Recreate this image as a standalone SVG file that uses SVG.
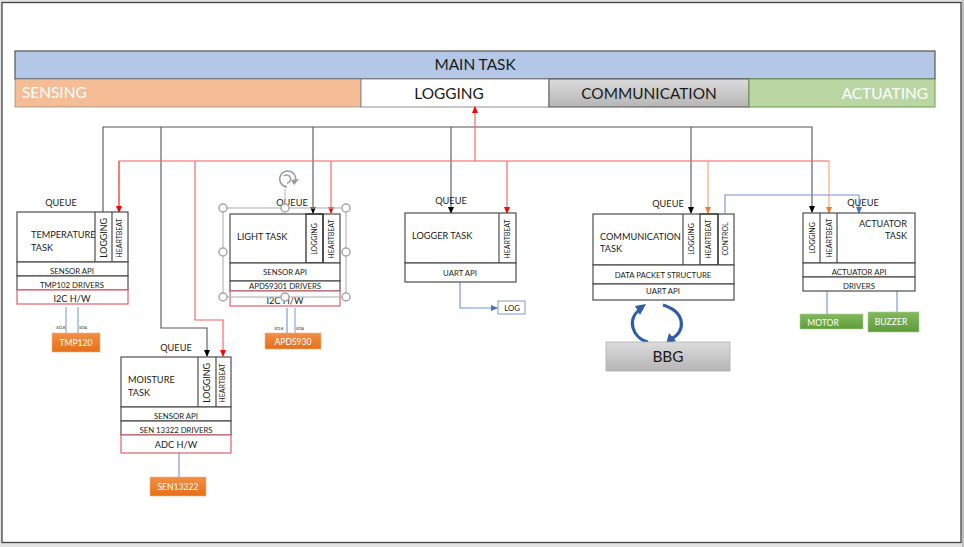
<svg xmlns="http://www.w3.org/2000/svg" width="964" height="547" viewBox="0 0 964 547">
<style>
text{font-family:Lato,"Open Sans","Liberation Sans",sans-serif;fill:#1a1a1a;font-size:7.8px}
.c{text-anchor:middle}
.box{fill:#fff;stroke:#4d4d4d;stroke-width:1.2}
.red{fill:#fff;stroke:#e0616b;stroke-width:1.2}
.l{fill:none;stroke:#4d4d4d;stroke-width:1.2}
.k,.r,.o,.b,.s{fill:none}
.k{stroke:#555;stroke-width:1.1}
.r{stroke:#f45c5c;stroke-width:1.1}
.o{stroke:#f4a36c;stroke-width:1.1}
.b{stroke:#6f93d6;stroke-width:1.1}
.s{stroke:#a9bfe4;stroke-width:1.6}
.h{fill:#fff;stroke:#a6a6a6;stroke-width:1.5}
.q{font-size:9.2px}
.t{font-size:9.2px}
.v{font-size:7px}
.vl{font-size:8.8px}
.h1{font-size:15.4px}
.w{fill:#fff;font-size:8.6px}
.m{font-size:4px}
</style>
<defs>
<marker id="ak" markerWidth="7" markerHeight="6" refX="6" refY="3" orient="auto" markerUnits="userSpaceOnUse"><path d="M0 0L7 3L0 6z" fill="#000"/></marker>
<marker id="ar" markerWidth="7" markerHeight="6" refX="6" refY="3" orient="auto" markerUnits="userSpaceOnUse"><path d="M0 0L7 3L0 6z" fill="#f00"/></marker>
<marker id="ao" markerWidth="7" markerHeight="6" refX="6" refY="3" orient="auto" markerUnits="userSpaceOnUse"><path d="M0 0L7 3L0 6z" fill="#ed7d31"/></marker>
<marker id="ab" markerWidth="7" markerHeight="6" refX="6" refY="3" orient="auto" markerUnits="userSpaceOnUse"><path d="M0 0L7 3L0 6z" fill="#4472c4"/></marker>
<linearGradient id="gg" x1="0" y1="0" x2="0" y2="1"><stop offset="0" stop-color="#dcdcdc"/><stop offset="1" stop-color="#b5b5b5"/></linearGradient>
<linearGradient id="go" x1="0" y1="0" x2="0" y2="1"><stop offset="0" stop-color="#f28f45"/><stop offset="1" stop-color="#e56f17"/></linearGradient>
<linearGradient id="gv" x1="0" y1="0" x2="0" y2="1"><stop offset="0" stop-color="#83b85f"/><stop offset="1" stop-color="#5f9c39"/></linearGradient>
</defs>
<rect width="964" height="547" fill="#e3e3e3"/>
<rect x="962" y="0" width="2" height="547" fill="#bdbdbd"/>
<rect x="2" y="2.5" width="959" height="540" fill="#fff" stroke="#444" stroke-width="1.3"/>

<g id="main-task">
<rect x="15" y="51" width="920" height="28" fill="#b4c7e7" stroke="#555" stroke-width="1.2"/>
<text x="475" y="70" class="c h1">MAIN TASK</text>
</g>
<g id="sensing">
<rect x="15" y="79" width="346" height="28" fill="#f4bd96" stroke="#777" stroke-width="0.6"/>
<text x="22" y="98" class="h1" style="fill:#fff">SENSING</text>
</g>
<g id="logging">
<rect x="361" y="79" width="188" height="28" fill="#fff" stroke="#777" stroke-width="0.8"/>
<text x="449" y="99" class="c h1">LOGGING</text>
</g>
<g id="communication">
<rect x="549" y="79" width="200" height="28" fill="url(#gg)" stroke="#555" stroke-width="1"/>
<text x="649" y="99" class="c h1">COMMUNICATION</text>
</g>
<g id="actuating">
<rect x="749" y="79" width="186" height="28" fill="#b9d6a3" stroke="#6d9a50" stroke-width="1"/>
<text x="928" y="99" text-anchor="end" class="h1" style="fill:#fff">ACTUATING</text>
</g>

<g id="connectors">
<path class="k" d="M103 212V127H812V212" marker-end="url(#ak)"/>
<path class="k" d="M161 127V328H207V356" marker-end="url(#ak)"/>
<path class="k" d="M313 127V213" marker-end="url(#ak)"/>
<path class="k" d="M451 127V213" marker-end="url(#ak)"/>
<path class="k" d="M691 127V213" marker-end="url(#ak)"/>
<path class="r" d="M119 212V161H829"/>
<path class="r" d="M119 161V212" marker-end="url(#ar)"/>
<path class="r" d="M195 161V320H223V356" marker-end="url(#ar)"/>
<path class="r" d="M331 161V213" marker-end="url(#ar)"/>
<path class="r" d="M507 161V213" marker-end="url(#ar)"/>
<path class="r" d="M475 161V107" marker-end="url(#ar)"/>
<path class="o" d="M708 161V213" marker-end="url(#ao)"/>
<path class="o" d="M829 161V213" marker-end="url(#ao)"/>
<path class="b" d="M725 213V195H859V213" marker-end="url(#ab)"/>
<path class="b" d="M460 282V308H497" marker-end="url(#ab)"/>
<path class="s" d="M66 307V333M78 307V333"/>
<path class="b" d="M287 308V333"/>
<path class="s" d="M295 308V333"/>
<path class="b" d="M179 453V477M827 291V314M897 291V313"/>
<g fill="none" stroke="#2f5da8" stroke-width="3.2">
<path d="M648 342C632 338 626 318 641 309"/>
<path d="M663 305C686 312 686 332 671 339"/>
</g>
<path d="M646 304L640 315L635 306z" fill="#2f5da8"/>
<path d="M666 344L669 333L676 341z" fill="#2f5da8"/>
</g>

<g id="temperature-task">
<text x="61" y="206" class="c q">QUEUE</text>
<rect class="box" x="17" y="212" width="111" height="50"/>
<path class="l" d="M95 212V262M112 212V262"/>
<rect class="box" x="17" y="262" width="111" height="14"/>
<rect class="box" x="17" y="276" width="111" height="14"/>
<rect class="red" x="17" y="290" width="111" height="14"/>
<text x="31" y="238" class="t">TEMPERATURE</text>
<text x="31" y="251" class="t">TASK</text>
<text transform="translate(107,238) rotate(-90)" class="c vl">LOGGING</text>
<text transform="translate(122,238) rotate(-90)" class="c v">HEARTBEAT</text>
<text x="72" y="274" class="c">SENSOR API</text>
<text x="72" y="288" class="c">TMP102 DRIVERS</text>
<text x="72" y="302" class="c t">I2C H/W</text>
</g>
<g id="tmp120">
<rect x="52" y="333" width="48" height="19" fill="url(#go)" stroke="#f4b183" stroke-width="0.6"/>
<text x="76" y="346" class="c w">TMP120</text>
<text x="61" y="329" class="c m">SCLK</text>
<text x="83" y="329" class="c m">SDA</text>
</g>

<g id="light-task">
<rect class="box" x="230" y="214" width="110" height="49"/>
<path class="l" d="M323 214V263"/>
<rect x="306" y="214" width="17" height="49" fill="none" stroke="#222" stroke-width="1.2"/>
<rect class="box" x="230" y="263" width="110" height="18"/>
<rect class="box" x="230" y="281" width="110" height="10"/>
<rect class="red" x="230" y="291" width="110" height="15"/>
<text x="237" y="240" class="t">LIGHT TASK</text>
<text transform="translate(317,239) rotate(-90)" class="c v">LOGGING</text>
<text transform="translate(334,239) rotate(-90)" class="c v">HEARTBEAT</text>
<text x="285" y="275" class="c">SENSOR API</text>
<text x="285" y="289" class="c">APDS9301 DRIVERS</text>
<text x="285" y="304" class="c t">I2C H/W</text>
<text x="292" y="206" class="c q">QUEUE</text>
<rect x="223" y="208" width="123" height="89" fill="none" stroke="#b8b8b8" stroke-width="1.2"/>
<path d="M285 189V208" stroke="#b8b8b8" fill="none"/>
<path d="M294 184A8 8 0 1 0 287 187M287 183A4 4 0 1 0 284 176" fill="none" stroke="#9a9a9a" stroke-width="1.5"/>
<path d="M291 180L299 179L294 185z" fill="#9a9a9a"/>
<circle class="h" cx="223" cy="208" r="4"/><circle class="h" cx="285" cy="208" r="4"/><circle class="h" cx="346" cy="208" r="4"/>
<circle class="h" cx="223" cy="252" r="4"/><circle class="h" cx="346" cy="252" r="4"/>
<circle class="h" cx="223" cy="297" r="4"/><circle class="h" cx="285" cy="297" r="4"/><circle class="h" cx="346" cy="297" r="4"/>
</g>
<g id="apds930">
<rect x="265" y="333" width="56" height="16" fill="url(#go)" stroke="#f4b183" stroke-width="0.6"/>
<text x="293" y="345" class="c w">APDS930</text>
<text x="279" y="330" class="c m">SCLK</text>
<text x="300" y="330" class="c m">SDA</text>
</g>

<g id="moisture-task">
<text x="176" y="351" class="c q">QUEUE</text>
<rect class="box" x="121" y="357" width="110" height="50"/>
<path class="l" d="M198 357V407M216 357V407"/>
<rect class="box" x="121" y="407" width="110" height="14"/>
<rect class="box" x="121" y="421" width="110" height="14"/>
<rect class="red" x="121" y="435" width="110" height="18"/>
<text x="128" y="383" class="t">MOISTURE</text>
<text x="128" y="396" class="t">TASK</text>
<text transform="translate(210,383) rotate(-90)" class="c vl">LOGGING</text>
<text transform="translate(225,383) rotate(-90)" class="c v">HEARTBEAT</text>
<text x="176" y="419" class="c">SENSOR API</text>
<text x="176" y="433" class="c">SEN 13322 DRIVERS</text>
<text x="176" y="448" class="c t">ADC H/W</text>
</g>
<g id="sen13322">
<rect x="150" y="477" width="56" height="19" fill="url(#go)" stroke="#f4b183" stroke-width="0.6"/>
<text x="178" y="490" class="c w">SEN13322</text>
</g>

<g id="logger-task">
<text x="451" y="204" class="c q">QUEUE</text>
<rect class="box" x="405" y="213" width="111" height="50"/>
<path class="l" d="M499 213V263"/>
<rect class="box" x="405" y="263" width="111" height="19"/>
<text x="412" y="239" class="t">LOGGER TASK</text>
<text transform="translate(510,239) rotate(-90)" class="c v">HEARTBEAT</text>
<text x="460" y="276" class="c">UART API</text>
</g>
<g id="log">
<rect x="498" y="301" width="27" height="13" fill="#fff" stroke="#7f97c4" stroke-width="1"/>
<text x="512" y="311" class="c">LOG</text>
</g>

<g id="communication-task">
<text x="668" y="207" class="c q">QUEUE</text>
<rect class="box" x="593" y="214" width="141" height="51"/>
<path class="l" d="M683 214V265M718 214V265"/>
<rect x="700" y="214" width="18" height="51" fill="none" stroke="#333" stroke-width="1.2"/>
<rect class="box" x="593" y="265" width="141" height="19"/>
<rect class="box" x="593" y="284" width="141" height="16"/>
<text x="600" y="240" class="t">COMMUNICATION</text>
<text x="600" y="252" class="t">TASK</text>
<text transform="translate(694,239) rotate(-90)" class="c v">LOGGING</text>
<text transform="translate(711,239) rotate(-90)" class="c v">HEARTBEAT</text>
<text transform="translate(728,239) rotate(-90)" class="c v">CONTROL</text>
<text x="663" y="278" class="c">DATA PACKET STRUCTURE</text>
<text x="663" y="294" class="c">UART API</text>
</g>
<g id="bbg">
<rect x="606" y="342" width="124" height="29" fill="url(#gg)" stroke="#b0b0b0" stroke-width="0.8"/>
<text x="668" y="362" class="c h1">BBG</text>
</g>

<g id="actuator-task">
<text x="863" y="206" class="c q">QUEUE</text>
<rect class="box" x="803" y="213" width="112" height="50"/>
<path class="l" d="M820 213V263M837 213V263"/>
<rect class="box" x="803" y="263" width="112" height="14"/>
<rect class="box" x="803" y="277" width="112" height="14"/>
<text x="907" y="227" text-anchor="end" class="t">ACTUATOR</text>
<text x="907" y="239" text-anchor="end" class="t">TASK</text>
<text transform="translate(815,238) rotate(-90)" class="c v">LOGGING</text>
<text transform="translate(832,238) rotate(-90)" class="c v">HEARTBEAT</text>
<text x="859" y="275" class="c">ACTUATOR API</text>
<text x="859" y="289" class="c">DRIVERS</text>
</g>
<g id="motor">
<rect x="800" y="314" width="63" height="15" fill="url(#gv)" stroke="#a9d18e" stroke-width="0.6"/>
<text x="823" y="326" class="c w">MOTOR</text>
</g>
<g id="buzzer">
<rect x="868" y="312" width="51" height="20" fill="url(#gv)" stroke="#a9d18e" stroke-width="0.6"/>
<text x="891" y="325" class="c w">BUZZER</text>
</g>
</svg>
